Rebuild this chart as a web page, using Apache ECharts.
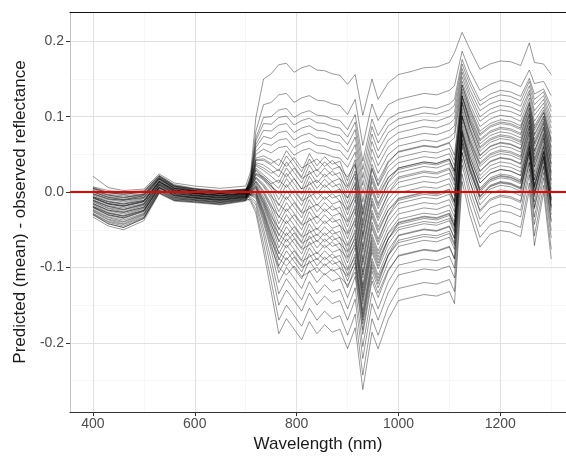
<!DOCTYPE html>
<html><head><meta charset="utf-8">
<script src="https://cdn.jsdelivr.net/npm/echarts@6/dist/echarts.min.js"></script>
<style>html,body{margin:0;padding:0;background:#fff}#c{width:566px;height:458px}</style>
</head><body><div id="c"></div>
<script>
const wavelengths = [400,430,460,500,530,560,600,650,700,710,720,735,750,765,780,795,810,825,840,855,870,885,900,915,930,948,960,980,1000,1025,1050,1075,1100,1110,1125,1140,1160,1180,1200,1220,1240,1257,1267,1285,1300];

const line01 = [0.021,0.006,0.002,0.004,0.024,0.012,0.008,0.005,0.008, 0.028,0.099,0.150,0.157, 0.169,0.171,0.159,0.165,0.168,0.162,0.161,0.157,0.155,0.143, 0.156,0.102,0.150,0.123,0.145, 0.156,0.160,0.165,0.166,0.172,0.185, 0.212,0.190,0.163,0.170,0.174,0.173,0.168,0.198,0.172,0.170,0.156];
const line02 = [0.002,-0.004,-0.007,-0.003,0.019,0.007,0.002,-0.001,0.002, 0.023,0.081,0.116,0.119, 0.129,0.131,0.119,0.125,0.128,0.122,0.121,0.117,0.115,0.103, 0.123,0.062,0.117,0.095,0.116, 0.123,0.127,0.131,0.129,0.135,0.141, 0.187,0.161,0.135,0.143,0.148,0.146,0.140,0.162,0.144,0.147,0.128];
const line03 = [-0.006,-0.013,-0.016,-0.011,0.014,0.003,-0.001,-0.004,-0.001, 0.021,0.072,0.099,0.100, 0.109,0.111,0.099,0.105,0.108,0.102,0.101,0.097,0.095,0.083, 0.103,0.041,0.097,0.075,0.097, 0.105,0.109,0.113,0.111,0.117,0.123, 0.176,0.149,0.121,0.130,0.135,0.133,0.127,0.151,0.130,0.137,0.113];
const line04 = [0.005,-0.001,-0.003,0.000,0.021,0.008,0.004,0.001,0.003, 0.019,0.068,0.091,0.090, 0.099,0.101,0.089,0.095,0.098,0.092,0.091,0.087,0.085,0.073, 0.093,0.030,0.087,0.065,0.088, 0.097,0.101,0.105,0.103,0.109,0.115, 0.170,0.143,0.115,0.124,0.129,0.127,0.121,0.147,0.123,0.133,0.107];
const line05 = [-0.011,-0.019,-0.023,-0.016,0.011,0.000,-0.004,-0.007,-0.003, 0.018,0.063,0.082,0.081, 0.089,0.091,0.079,0.085,0.088,0.082,0.081,0.077,0.075,0.063, 0.083,0.019,0.077,0.055,0.079, 0.088,0.092,0.096,0.094,0.100,0.106, 0.164,0.136,0.108,0.117,0.122,0.120,0.114,0.141,0.116,0.128,0.099];
const line06 = [0.000,-0.007,-0.010,-0.005,0.018,0.005,0.001,-0.002,0.001, 0.017,0.059,0.074,0.071, 0.079,0.081,0.069,0.075,0.078,0.072,0.071,0.067,0.065,0.053, 0.073,0.009,0.067,0.045,0.069, 0.079,0.083,0.087,0.085,0.091,0.097, 0.159,0.130,0.100,0.110,0.115,0.113,0.107,0.135,0.108,0.123,0.092];
const line07 = [-0.019,-0.028,-0.032,-0.024,0.006,-0.004,-0.007,-0.010,-0.006, 0.016,0.054,0.065,0.062, 0.069,0.071,0.059,0.065,0.068,0.062,0.061,0.057,0.055,0.043, 0.063,-0.002,0.057,0.035,0.060, 0.070,0.074,0.078,0.076,0.082,0.088, 0.153,0.124,0.094,0.104,0.109,0.107,0.101,0.131,0.102,0.118,0.085];
const line08 = [-0.003,-0.010,-0.013,-0.008,0.016,0.004,0.000,-0.003,0.000, 0.015,0.050,0.057,0.052, 0.059,0.061,0.049,0.055,0.058,0.052,0.051,0.047,0.045,0.033, 0.053,-0.013,0.047,0.025,0.050, 0.061,0.065,0.069,0.067,0.073,0.079, 0.147,0.117,0.087,0.097,0.102,0.100,0.094,0.125,0.094,0.113,0.078];
const line09 = [0.007,0.002,0.000,0.002,0.022,0.010,0.005,0.002,0.004, 0.013,0.045,0.048,0.043, 0.035,0.055,0.041,0.027,0.051,0.035,0.047,0.037,0.041,0.015, 0.043,-0.023,0.037,0.015,0.041, 0.053,0.057,0.061,0.059,0.065,0.049, 0.142,0.112,0.081,0.091,0.096,0.094,0.088,0.120,0.088,0.109,0.071];
const line10 = [-0.008,-0.016,-0.019,-0.013,0.013,0.001,-0.002,-0.005,-0.002, 0.013,0.042,0.042,0.036, 0.028,0.048,0.034,0.020,0.044,0.028,0.040,0.030,0.034,0.008, 0.036,-0.031,0.030,0.008,0.034, 0.046,0.050,0.054,0.052,0.058,0.042, 0.137,0.106,0.075,0.086,0.091,0.089,0.083,0.116,0.082,0.105,0.066];
const line11 = [-0.024,-0.034,-0.039,-0.029,0.003,-0.007,-0.010,-0.013,-0.008, 0.012,0.039,0.036,0.029, 0.020,0.040,0.026,0.012,0.036,0.020,0.032,0.022,0.026,0.000, 0.028,-0.039,0.022,0.000,0.027, 0.039,0.043,0.047,0.045,0.051,0.035, 0.133,0.102,0.070,0.081,0.086,0.084,0.078,0.112,0.077,0.101,0.060];
const line12 = [0.001,-0.006,-0.008,-0.004,0.018,0.006,0.002,-0.001,0.002, 0.011,0.035,0.029,0.021, 0.012,0.032,0.018,0.004,0.028,0.012,0.024,0.014,0.018,-0.008, 0.020,-0.048,0.014,-0.008,0.019, 0.032,0.036,0.040,0.038,0.044,0.028, 0.128,0.096,0.064,0.075,0.080,0.078,0.072,0.107,0.070,0.097,0.054];
const line13 = [-0.013,-0.022,-0.026,-0.018,0.010,-0.002,-0.005,-0.008,-0.004, 0.010,0.032,0.023,0.014, 0.005,0.025,0.011,-0.003,0.021,0.005,0.017,0.007,0.011,-0.015, 0.013,-0.056,0.007,-0.015,0.013, 0.026,0.030,0.034,0.032,0.038,0.022, 0.124,0.092,0.060,0.071,0.076,0.074,0.068,0.104,0.066,0.094,0.049];
const line14 = [-0.004,-0.012,-0.015,-0.009,0.015,0.003,-0.001,-0.004,-0.001, 0.009,0.029,0.017,0.008, -0.002,0.018,0.004,-0.010,0.014,-0.002,0.010,0.000,0.004,-0.022, 0.006,-0.063,0.000,-0.022,0.006, 0.020,0.024,0.028,0.026,0.032,0.016, 0.120,0.087,0.054,0.066,0.071,0.069,0.063,0.100,0.061,0.090,0.044];
const line15 = [-0.029,-0.040,-0.045,-0.034,0.000,-0.010,-0.012,-0.015,-0.010, 0.008,0.025,0.020,0.010, -0.010,0.010,-0.004,-0.018,0.006,-0.010,0.002,-0.008,-0.004,-0.030, -0.002,-0.072,-0.008,-0.030,-0.002, 0.013,0.017,0.021,0.019,0.025,0.009, 0.116,0.083,0.049,0.061,0.066,0.064,0.058,0.096,0.055,0.086,0.038];
const line16 = [0.004,-0.003,-0.005,-0.002,0.020,0.008,0.003,0.000,0.003, 0.007,0.023,0.016,0.004, -0.018,0.002,-0.012,-0.026,-0.002,-0.018,-0.006,-0.016,-0.012,-0.038, -0.010,-0.080,-0.016,-0.038,-0.009, 0.006,0.010,0.014,0.012,0.018,0.002, 0.111,0.078,0.044,0.056,0.061,0.059,0.053,0.092,0.050,0.083,0.033];
const line17 = [-0.010,-0.018,-0.021,-0.015,0.012,0.001,-0.003,-0.006,-0.003, 0.006,0.020,0.011,-0.003, -0.026,-0.006,-0.020,-0.034,-0.010,-0.026,-0.014,-0.024,-0.020,-0.046, -0.018,-0.089,-0.024,-0.046,-0.017, -0.001,0.003,0.007,0.005,0.011,-0.005, 0.107,0.073,0.039,0.051,0.056,0.054,0.048,0.088,0.045,0.079,0.027];
const line18 = [-0.016,-0.025,-0.029,-0.021,0.008,-0.003,-0.006,-0.009,-0.005, 0.005,0.018,0.007,-0.009, -0.034,-0.014,-0.028,-0.042,-0.018,-0.034,-0.022,-0.032,-0.028,-0.054, -0.026,-0.097,-0.032,-0.054,-0.024, -0.008,-0.004,0.000,-0.002,0.004,-0.012, 0.102,0.068,0.034,0.046,0.051,0.049,0.043,0.084,0.039,0.075,0.022];
const line19 = [-0.002,-0.009,-0.011,-0.007,0.017,0.005,0.001,-0.002,0.001, 0.004,0.015,0.002,-0.016, -0.042,-0.022,-0.036,-0.050,-0.026,-0.042,-0.030,-0.040,-0.036,-0.062, -0.034,-0.106,-0.040,-0.062,-0.032, -0.015,-0.011,-0.007,-0.009,-0.003,-0.019, 0.098,0.063,0.027,0.040,0.045,0.043,0.037,0.079,0.033,0.071,0.015];
const line20 = [-0.033,-0.045,-0.050,-0.038,-0.002,-0.012,-0.014,-0.017,-0.012, 0.003,0.013,-0.002,-0.022, -0.050,-0.030,-0.044,-0.058,-0.034,-0.050,-0.038,-0.048,-0.044,-0.070, -0.042,-0.114,-0.048,-0.070,-0.039, -0.022,-0.018,-0.014,-0.016,-0.010,-0.026, 0.093,0.058,0.022,0.035,0.040,0.038,0.032,0.075,0.027,0.067,0.010];
const line21 = [-0.007,-0.015,-0.018,-0.012,0.014,0.002,-0.002,-0.005,-0.002, 0.002,0.011,-0.006,-0.028, -0.058,-0.038,-0.052,-0.066,-0.042,-0.058,-0.046,-0.056,-0.052,-0.078, -0.050,-0.123,-0.056,-0.078,-0.047, -0.029,-0.025,-0.021,-0.023,-0.017,-0.033, 0.088,0.053,0.017,0.030,0.035,0.033,0.027,0.071,0.022,0.063,0.004];
const line22 = [-0.021,-0.031,-0.035,-0.026,0.005,-0.006,-0.008,-0.011,-0.007, 0.001,0.008,-0.011,-0.035, -0.066,-0.046,-0.060,-0.074,-0.050,-0.066,-0.054,-0.064,-0.060,-0.086, -0.058,-0.131,-0.064,-0.086,-0.054, -0.036,-0.032,-0.028,-0.030,-0.024,-0.040, 0.084,0.048,0.012,0.025,0.030,0.028,0.022,0.067,0.016,0.060,-0.001];
const line23 = [0.000,-0.007,-0.010,-0.005,0.018,0.005,0.001,-0.002,0.001, 0.000,0.006,-0.015,-0.041, -0.074,-0.054,-0.068,-0.082,-0.058,-0.074,-0.062,-0.072,-0.068,-0.094, -0.066,-0.140,-0.072,-0.094,-0.062, -0.043,-0.039,-0.035,-0.037,-0.031,-0.047, 0.079,0.042,0.005,0.019,0.024,0.022,0.016,0.063,0.010,0.055,-0.008];
const line24 = [-0.012,-0.021,-0.024,-0.017,0.010,-0.001,-0.004,-0.007,-0.004, -0.001,0.003,-0.020,-0.048, -0.082,-0.062,-0.076,-0.090,-0.066,-0.082,-0.070,-0.080,-0.076,-0.102, -0.074,-0.149,-0.080,-0.102,-0.069, -0.050,-0.046,-0.042,-0.044,-0.038,-0.054, 0.075,0.038,0.000,0.014,0.019,0.017,0.011,0.059,0.005,0.052,-0.013];
const line25 = [-0.026,-0.037,-0.042,-0.031,0.002,-0.009,-0.011,-0.014,-0.009, -0.002,0.001,-0.024,-0.054, -0.090,-0.070,-0.084,-0.098,-0.074,-0.090,-0.078,-0.088,-0.084,-0.110, -0.082,-0.157,-0.088,-0.110,-0.077, -0.057,-0.053,-0.049,-0.051,-0.045,-0.061, 0.070,0.033,-0.005,0.009,0.014,0.012,0.006,0.055,-0.001,0.048,-0.018];
const line26 = [-0.006,-0.013,-0.016,-0.011,0.014,0.003,-0.001,-0.004,-0.001, -0.003,-0.001,-0.028,-0.060, -0.098,-0.078,-0.092,-0.106,-0.082,-0.098,-0.086,-0.096,-0.092,-0.118, -0.090,-0.166,-0.096,-0.118,-0.084, -0.064,-0.060,-0.056,-0.058,-0.052,-0.068, 0.066,0.028,-0.010,0.004,0.009,0.007,0.001,0.051,-0.006,0.044,-0.024];
const line27 = [-0.017,-0.027,-0.031,-0.022,0.007,-0.004,-0.007,-0.010,-0.006, -0.004,-0.004,-0.033,-0.068, -0.107,-0.087,-0.101,-0.115,-0.091,-0.107,-0.095,-0.105,-0.101,-0.127, -0.099,-0.175,-0.105,-0.127,-0.093, -0.072,-0.068,-0.064,-0.066,-0.060,-0.076, 0.060,0.022,-0.017,-0.002,0.003,0.001,-0.005,0.046,-0.013,0.040,-0.030];
const line28 = [0.002,-0.004,-0.007,-0.003,0.019,0.007,0.002,-0.001,0.002, -0.005,-0.008,-0.041,-0.078, -0.120,-0.100,-0.114,-0.128,-0.104,-0.120,-0.108,-0.118,-0.114,-0.140, -0.112,-0.189,-0.118,-0.140,-0.105, -0.084,-0.080,-0.076,-0.078,-0.072,-0.088, 0.053,0.014,-0.026,-0.011,-0.006,-0.008,-0.014,0.039,-0.022,0.033,-0.040];
const line29 = [-0.015,-0.024,-0.027,-0.020,0.009,-0.002,-0.005,-0.008,-0.005, -0.007,-0.013,-0.049,-0.090, -0.135,-0.115,-0.129,-0.143,-0.119,-0.135,-0.123,-0.133,-0.129,-0.155, -0.127,-0.205,-0.133,-0.155,-0.119, -0.097,-0.093,-0.089,-0.091,-0.085,-0.101, 0.044,0.004,-0.036,-0.021,-0.016,-0.018,-0.024,0.031,-0.033,0.026,-0.051];
const line30 = [-0.030,-0.042,-0.047,-0.035,-0.001,-0.011,-0.013,-0.016,-0.011, -0.009,-0.017,-0.057,-0.102, -0.150,-0.130,-0.144,-0.158,-0.134,-0.150,-0.138,-0.148,-0.144,-0.170, -0.142,-0.221,-0.148,-0.170,-0.133, -0.110,-0.106,-0.102,-0.104,-0.098,-0.114, 0.036,-0.005,-0.046,-0.030,-0.025,-0.027,-0.033,0.023,-0.043,0.019,-0.061];
const line31 = [-0.008,-0.016,-0.019,-0.013,0.013,0.001,-0.002,-0.005,-0.002, -0.011,-0.023,-0.068,-0.118, -0.170,-0.150,-0.164,-0.178,-0.154,-0.170,-0.158,-0.168,-0.164,-0.190, -0.162,-0.243,-0.168,-0.190,-0.152, -0.128,-0.124,-0.120,-0.122,-0.116,-0.132, 0.024,-0.018,-0.060,-0.044,-0.039,-0.041,-0.047,0.012,-0.058,0.009,-0.076];
const line32 = [-0.020,-0.030,-0.034,-0.025,0.006,-0.005,-0.008,-0.011,-0.007, -0.013,-0.028,-0.078,-0.132, -0.188,-0.168,-0.182,-0.196,-0.172,-0.188,-0.176,-0.186,-0.182,-0.208, -0.180,-0.262,-0.186,-0.208,-0.169, -0.144,-0.140,-0.136,-0.138,-0.132,-0.148, 0.014,-0.030,-0.073,-0.056,-0.051,-0.053,-0.059,0.003,-0.071,0.000,-0.089];
const line33 = [-0.023,-0.033,-0.037,-0.028,0.004,-0.007,-0.009,-0.012,-0.008, 0.008,0.024,0.018,0.007, 0.000,-0.010,0.002,-0.012,-0.006,0.000,-0.010,-0.002,-0.012,-0.024, -0.006,-0.076,-0.012,-0.034,-0.001, 0.018,0.022,0.026,0.024,0.030,0.014, 0.119,0.084,0.048,0.060,0.065,0.063,0.057,0.095,0.054,0.086,0.037];
const line34 = [0.005,-0.001,-0.003,0.000,0.021,0.008,0.004,0.001,0.003, 0.006,0.019,0.009,-0.006, -0.016,-0.026,-0.014,-0.028,-0.022,-0.016,-0.026,-0.018,-0.028,-0.040, -0.022,-0.093,-0.028,-0.050,-0.024, -0.011,-0.007,-0.003,-0.005,0.001,-0.015, 0.100,0.069,0.037,0.049,0.054,0.052,0.046,0.087,0.042,0.077,0.025];
const line35 = [-0.015,-0.024,-0.027,-0.020,0.009,-0.002,-0.005,-0.008,-0.005, 0.004,0.014,0.000,-0.019, -0.032,-0.042,-0.030,-0.044,-0.038,-0.032,-0.042,-0.034,-0.044,-0.056, -0.038,-0.110,-0.044,-0.066,-0.031, -0.009,-0.005,-0.001,-0.003,0.003,-0.013, 0.101,0.065,0.028,0.041,0.046,0.044,0.038,0.080,0.034,0.072,0.016];
const line36 = [-0.025,-0.036,-0.040,-0.030,0.002,-0.008,-0.010,-0.013,-0.009, 0.002,0.009,-0.009,-0.032, -0.048,-0.058,-0.046,-0.060,-0.054,-0.048,-0.058,-0.050,-0.060,-0.072, -0.054,-0.127,-0.060,-0.082,-0.055, -0.041,-0.037,-0.033,-0.035,-0.029,-0.045, 0.081,0.047,0.012,0.025,0.030,0.028,0.022,0.067,0.016,0.060,-0.001];
const line37 = [-0.002,-0.009,-0.011,-0.007,0.017,0.005,0.001,-0.002,0.001, 0.000,0.005,-0.017,-0.044, -0.064,-0.074,-0.062,-0.076,-0.070,-0.064,-0.074,-0.066,-0.076,-0.088, -0.070,-0.144,-0.076,-0.098,-0.062, -0.040,-0.036,-0.032,-0.034,-0.028,-0.044, 0.081,0.042,0.002,0.016,0.021,0.019,0.013,0.060,0.007,0.053,-0.011];
const line38 = [-0.019,-0.028,-0.032,-0.024,0.006,-0.004,-0.007,-0.010,-0.006, -0.002,0.000,-0.026,-0.057, -0.080,-0.090,-0.078,-0.092,-0.086,-0.080,-0.090,-0.082,-0.092,-0.104, -0.086,-0.162,-0.092,-0.114,-0.084, -0.067,-0.063,-0.059,-0.061,-0.055,-0.071, 0.064,0.029,-0.007,0.007,0.012,0.010,0.004,0.053,-0.003,0.046,-0.021];
const line39 = [-0.011,-0.019,-0.023,-0.016,0.011,0.000,-0.004,-0.007,-0.003, -0.003,-0.003,-0.031,-0.064, -0.088,-0.098,-0.086,-0.100,-0.094,-0.088,-0.098,-0.090,-0.100,-0.112, -0.094,-0.170,-0.100,-0.122,-0.083, -0.058,-0.054,-0.050,-0.052,-0.046,-0.062, 0.070,0.032,-0.006,0.008,0.013,0.011,0.005,0.054,-0.002,0.047,-0.019];
const line40 = [-0.028,-0.039,-0.043,-0.033,0.001,-0.009,-0.011,-0.014,-0.010, -0.004,-0.006,-0.037,-0.073, -0.100,-0.110,-0.098,-0.112,-0.106,-0.100,-0.110,-0.102,-0.112,-0.124, -0.106,-0.183,-0.112,-0.134,-0.103, -0.085,-0.081,-0.077,-0.079,-0.073,-0.089, 0.052,0.014,-0.024,-0.009,-0.004,-0.006,-0.012,0.040,-0.020,0.035,-0.038];
const line41 = [-0.007,-0.015,-0.018,-0.012,0.014,0.002,-0.002,-0.005,-0.002, 0.013,0.043,0.044,0.038, 0.044,0.034,0.046,0.032,0.038,0.044,0.034,0.042,0.032,0.020, 0.038,-0.029,0.032,0.010,0.039, 0.054,0.058,0.062,0.060,0.066,0.072, 0.142,0.110,0.077,0.088,0.093,0.091,0.085,0.118,0.085,0.106,0.068];
const line42 = [-0.020,-0.030,-0.034,-0.025,0.006,-0.005,-0.008,-0.011,-0.007, 0.011,0.037,0.032,0.025, 0.030,0.020,0.032,0.018,0.024,0.030,0.020,0.028,0.018,0.006, 0.024,-0.044,0.018,-0.004,0.020, 0.030,0.034,0.038,0.036,0.042,0.026, 0.127,0.098,0.068,0.079,0.084,0.082,0.076,0.111,0.075,0.100,0.058];
const line43 = [0.006,0.000,-0.002,0.001,0.022,0.009,0.004,0.001,0.004, 0.009,0.030,0.020,0.011, 0.016,0.006,0.018,0.004,0.010,0.016,0.006,0.014,0.004,-0.008, 0.010,-0.059,0.004,-0.018,0.014, 0.032,0.036,0.040,0.038,0.044,0.028, 0.128,0.093,0.058,0.069,0.074,0.072,0.066,0.103,0.064,0.092,0.047];
const line44 = [-0.030,-0.042,-0.047,-0.035,-0.001,-0.011,-0.013,-0.016,-0.011, 0.001,0.007,-0.013,-0.038, -0.056,-0.066,-0.054,-0.068,-0.062,-0.056,-0.066,-0.058,-0.068,-0.080, -0.062,-0.136,-0.068,-0.090,-0.062, -0.047,-0.043,-0.039,-0.041,-0.035,-0.051, 0.077,0.040,0.003,0.017,0.022,0.020,0.014,0.061,0.008,0.054,-0.010];

const spectra = [line01,line02,line03,line04,line05,line06,line07,line08,line09,line10,line11,line12,line13,line14,line15,line16,line17,line18,line19,line20,line21,line22,line23,line24,line25,line26,line27,line28,line29,line30,line31,line32,line33,line34,line35,line36,line37,line38,line39,line40,line41,line42,line43,line44];

const xTicks = [400,600,800,1000,1200];
const xMinor = [500,700,900,1100,1300];
const yTicks = [-0.2,-0.1,0,0.1,0.2];
const yMinor = [-0.25,-0.15,-0.05,0.05,0.15];
const referenceValue = 0;

const xRange = [355,1329];
const yRange = [-0.292,0.239];
const font = '"Liberation Sans", Arial, Helvetica, sans-serif';

const gridLines = [];
xMinor.forEach(v => gridLines.push({xAxis: v, lineStyle: {color: '#f2f2f2', width: 0.6, type: 'solid'}}));
yMinor.forEach(v => gridLines.push({yAxis: v, lineStyle: {color: '#f2f2f2', width: 0.6, type: 'solid'}}));
xTicks.forEach(v => gridLines.push({xAxis: v, lineStyle: {color: '#e1e1e1', width: 1.1, type: 'solid'}}));
yTicks.forEach(v => gridLines.push({yAxis: v, lineStyle: {color: '#e1e1e1', width: 1.1, type: 'solid'}}));

const series = [{
  type: 'line', data: [], silent: true, z: 0,
  markLine: {silent: true, symbol: ['none','none'], label: {show: false}, z: 0, animation: false, emphasis: {disabled: true}, data: gridLines}
}];
spectra.forEach(s => series.push({
  type: 'line', data: wavelengths.map((w, i) => [w, s[i]]), showSymbol: false, symbol: 'none',
  lineStyle: {color: 'rgba(0,0,0,0.4)', width: 1}, z: 2, silent: true, animation: false, emphasis: {disabled: true}
}));
series.push({
  type: 'line', data: [], silent: true, z: 10,
  markLine: {silent: true, symbol: ['none','none'], label: {show: false}, z: 10, animation: false, emphasis: {disabled: true},
    data: [{yAxis: referenceValue, lineStyle: {color: '#f00000', width: 2, type: 'solid'}}]}
});

const chart = echarts.init(document.getElementById('c'), null, {renderer: 'canvas'});
chart.setOption({
  animation: false,
  backgroundColor: '#ffffff',
  grid: {left: 70, right: 0, top: 12, bottom: 43, containLabel: false},
  xAxis: [{
    type: 'value', min: xRange[0], max: xRange[1], position: 'bottom',
    axisLine: {show: true, onZero: false, lineStyle: {color: '#333333', width: 1}},
    axisTick: {show: true, customValues: xTicks, length: 4, lineStyle: {color: '#333333'}},
    axisLabel: {customValues: xTicks, color: '#4d4d4d', fontSize: 14, fontFamily: font, margin: 5,
      formatter: v => String(v)},
    splitLine: {show: false},
    name: 'Wavelength (nm)', nameLocation: 'middle', nameGap: 22,
    nameTextStyle: {color: '#1a1a1a', fontSize: 17, fontFamily: font}
  }, {
    type: 'value', min: xRange[0], max: xRange[1], position: 'top',
    axisLine: {show: true, onZero: false, lineStyle: {color: '#111111', width: 1}},
    axisTick: {show: false}, axisLabel: {show: false}, splitLine: {show: false}
  }],
  yAxis: {
    type: 'value', min: yRange[0], max: yRange[1],
    axisLine: {show: true, onZero: false, lineStyle: {color: '#c4c4c4', width: 1}},
    axisTick: {show: true, customValues: yTicks, length: 4, lineStyle: {color: '#333333'}},
    axisLabel: {customValues: yTicks, color: '#4d4d4d', fontSize: 14, fontFamily: font, margin: 6,
      formatter: v => v.toFixed(1)},
    splitLine: {show: false},
    name: 'Predicted (mean) - observed reflectance', nameLocation: 'middle', nameGap: 40, nameRotate: 90,
    nameTextStyle: {color: '#1a1a1a', fontSize: 17, fontFamily: font}
  },
  series: series
});
</script>
</body></html>
